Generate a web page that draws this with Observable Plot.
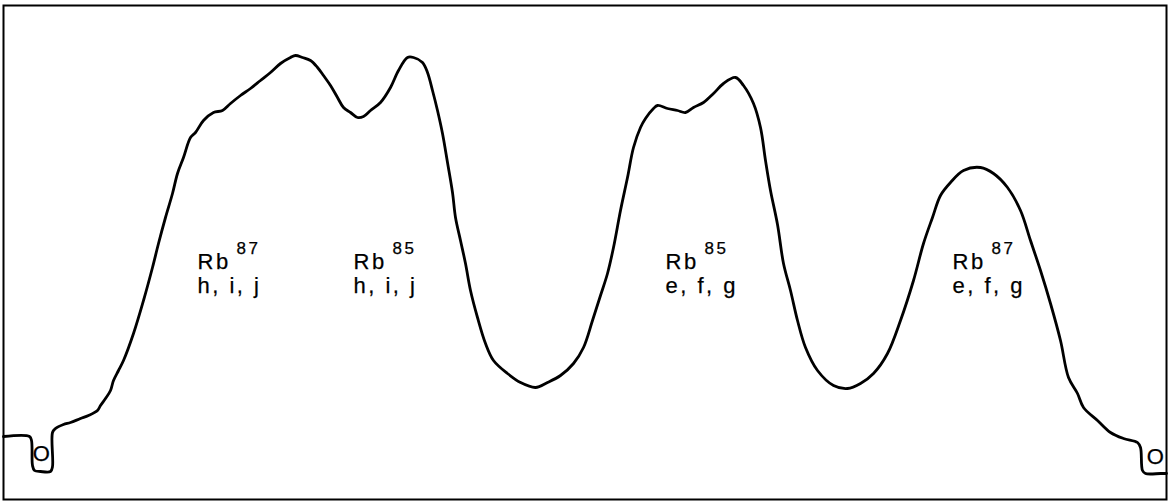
<!DOCTYPE html>
<html><head><meta charset="utf-8">
<script src="https://cdn.jsdelivr.net/npm/d3@7"></script>
<script src="https://cdn.jsdelivr.net/npm/@observablehq/plot@0.6"></script>
<style>html,body{margin:0;padding:0;background:#fff} svg{display:block}</style>
</head><body><div id="chart"></div>
<script>
// Trace: position along the scan and signal level (0 = bottom of frame)
const traceX = [3,29,31,32,34,40,50,52,52,55,63,70,80,88,97,100,105,110,113,118,123,133,143,152,158,165,172,177,183,190,195,203,213,222,230,240,250,260,270,280,290,295,302,310,317,323,330,337,343,350,357,363,370,380,390,398,407,413,422,427,432,437,442,447,452,455,460,465,470,477,485,493,507,520,535,547,560,573,583,592,600,607,613,620,627,633,640,645,653,657,667,677,685,693,703,713,723,735,743,753,760,765,770,777,783,790,797,805,817,833,847,860,873,887,900,913,923,932,940,950,963,980,993,1007,1020,1030,1040,1050,1060,1068,1077,1083,1097,1110,1123,1137,1140,1142,1145,1160,1166];
const tracePixelY = [436,436,440,465,470,471,471,466,432,428,424,422,418,415,410,405,398,390,380,370,360,333,300,267,243,217,193,173,157,137,132,120,112,110,103,95,88,80,72,63,57,55,57,60,67,75,85,97,107,112,117,116,110,102,87,70,57,57,62,72,90,110,133,162,192,217,240,263,290,317,343,360,373,382,387,382,375,363,347,320,295,273,247,210,177,147,127,118,108,105,108,110,112,107,102,93,83,77,85,103,127,160,190,224,263,290,320,347,370,385,388,383,373,353,320,280,243,217,195,182,170,167,173,187,210,240,270,303,340,377,393,407,420,432,438,442,447,470,473,473,473];
const traceSignal = tracePixelY.map(v => 499 - v);

// Peak labels
const isotopes = ["Rb", "Rb", "Rb", "Rb"];
const massNumbers = ["87", "85", "85", "87"];
const transitions = ["h, i, j", "h, i, j", "e, f, g", "e, f, g"];
const labelX = [197, 353, 665, 952];

// Zero-level markers
const zeroText = ["O", "O"];
const zeroX = [42, 1156];
const zeroSignal = [46, 43];

const trace = traceX.map((x, i) => ({x, s: traceSignal[i]}));
const labels = isotopes.map((iso, i) => ({iso, mass: massNumbers[i], tr: transitions[i], x: labelX[i]}));
const zeros = zeroText.map((t, i) => ({t, x: zeroX[i], s: zeroSignal[i]}));

const font = "'Liberation Sans', Arial, Helvetica, sans-serif";
const txt = {fill: "#000", stroke: "#000", strokeWidth: 0.25, fontFamily: font, textAnchor: "start", lineAnchor: "bottom"};
const chart = Plot.plot({
  width: 1169,
  height: 503,
  marginLeft: 3, marginRight: 3, marginTop: 5, marginBottom: 4,
  x: {domain: [3, 1166], axis: null},
  y: {domain: [0, 494], axis: null},
  style: {background: "#fff", fontFamily: font},
  marks: [
    Plot.frame({stroke: "#000", strokeWidth: 2}),
    Plot.line(trace, {x: "x", y: "s", curve: "catmull-rom", stroke: "#000", strokeWidth: 2.8, strokeLinejoin: "round", strokeLinecap: "round"}),
    Plot.text(labels, {...txt, x: "x", y: () => 231, text: "iso", fontSize: 22}),
    Plot.text(labels, {...txt, x: "x", y: () => 246, text: "mass", dx: 39, fontSize: 17}),
    Plot.text(labels, {...txt, x: "x", y: () => 207, text: "tr", fontSize: 22}),
    Plot.text(zeros, {x: "x", y: "s", text: "t", textAnchor: "middle", fontSize: 22, fill: "#000", stroke: "#000", strokeWidth: 0.25, fontFamily: font})
  ]
});
d3.select(chart).selectAll("text").style("letter-spacing", "2.5px");
document.getElementById("chart").append(chart);
</script>
</body></html>
